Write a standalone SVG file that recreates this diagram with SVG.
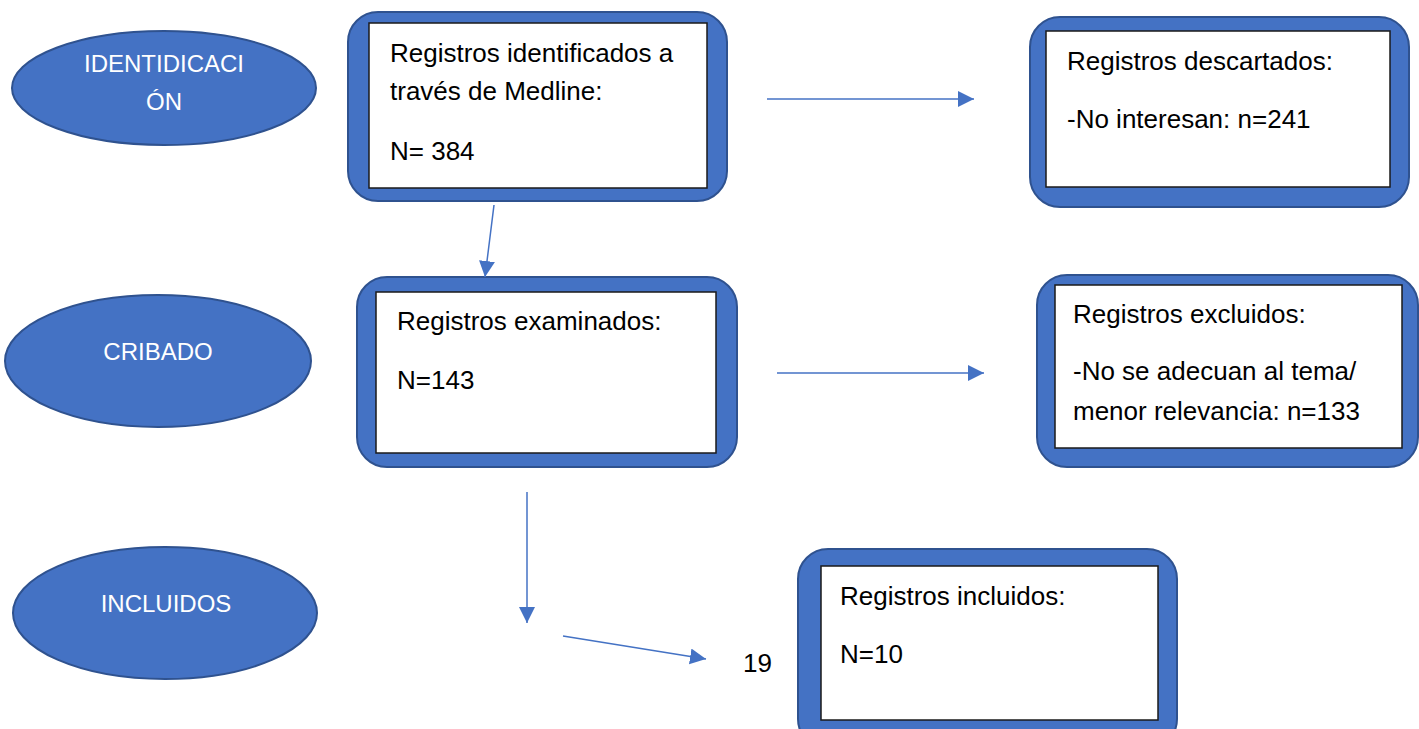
<svg xmlns="http://www.w3.org/2000/svg" width="1419" height="729" viewBox="0 0 1419 729">
<defs>
<marker id="ah" markerWidth="17" markerHeight="17" refX="16" refY="8" orient="auto" markerUnits="userSpaceOnUse">
<path d="M0,0 L16,8 L0,16 Z" fill="#4472C4"/>
</marker>
<style>
.frame{fill:#4472C4;stroke:#2F528F;stroke-width:2}
.inner{fill:#FFFFFF;stroke:#1a1a1a;stroke-width:1.5}
.ell{fill:#4472C4;stroke:#2F528F;stroke-width:2}
.t{font-family:"Liberation Sans",Arial,sans-serif;font-size:26px;fill:#000000}
.w{font-family:"Liberation Sans",Arial,sans-serif;font-size:24px;fill:#FFFFFF;text-anchor:middle}
.c{stroke:#4472C4;stroke-width:1.5;fill:none;marker-end:url(#ah)}
</style>
</defs>
<rect width="1419" height="729" fill="#FFFFFF"/>

<g id="stage-identificacion">
<ellipse class="ell" cx="164" cy="88" rx="152" ry="57"/>
<text class="w" x="164" y="72">IDENTIDICACI</text>
<text class="w" x="164" y="110">ÓN</text>
</g>
<g id="stage-cribado">
<ellipse class="ell" cx="158" cy="361" rx="153" ry="66"/>
<text class="w" x="158" y="360">CRIBADO</text>
</g>
<g id="stage-incluidos">
<ellipse class="ell" cx="165" cy="613" rx="152" ry="66"/>
<text class="w" x="166" y="612">INCLUIDOS</text>
</g>

<g id="node-identificados">
<rect class="frame" x="348" y="12" width="379" height="189" rx="30"/>
<rect class="inner" x="369" y="23" width="338" height="165"/>
<text class="t" x="390" y="62">Registros identificados a</text>
<text class="t" x="390" y="100">través de Medline:</text>
<text class="t" x="390" y="160">N= 384</text>
</g>
<g id="node-descartados">
<rect class="frame" x="1030" y="17" width="379" height="190" rx="30"/>
<rect class="inner" x="1046" y="31" width="344" height="156"/>
<text class="t" x="1067" y="70">Registros descartados:</text>
<text class="t" x="1067" y="128">-No interesan: n=241</text>
</g>
<g id="node-examinados">
<rect class="frame" x="357" y="277" width="380" height="190" rx="30"/>
<rect class="inner" x="376" y="292" width="340" height="161"/>
<text class="t" x="397" y="330">Registros examinados:</text>
<text class="t" x="397" y="389">N=143</text>
</g>
<g id="node-excluidos">
<rect class="frame" x="1037" y="275" width="381" height="192" rx="30"/>
<rect class="inner" x="1055" y="285" width="347" height="163"/>
<text class="t" x="1073" y="323">Registros excluidos:</text>
<text class="t" x="1073" y="380">-No se adecuan al tema/</text>
<text class="t" x="1073" y="420">menor relevancia: n=133</text>
</g>
<g id="node-incluidos">
<rect class="frame" x="798" y="549" width="379" height="200" rx="30"/>
<rect class="inner" x="821" y="566" width="337" height="154"/>
<text class="t" x="840" y="605">Registros incluidos:</text>
<text class="t" x="840" y="663">N=10</text>
</g>

<g id="label-19">
<text class="t" x="743" y="672">19</text>
</g>

<g id="connectors">
<line class="c" x1="767" y1="99" x2="974" y2="99"/>
<line class="c" x1="494" y1="205" x2="485" y2="277"/>
<line class="c" x1="777" y1="373" x2="984" y2="373"/>
<line class="c" x1="527" y1="492" x2="527" y2="623"/>
<line class="c" x1="563" y1="636" x2="706" y2="659"/>
</g>
</svg>
